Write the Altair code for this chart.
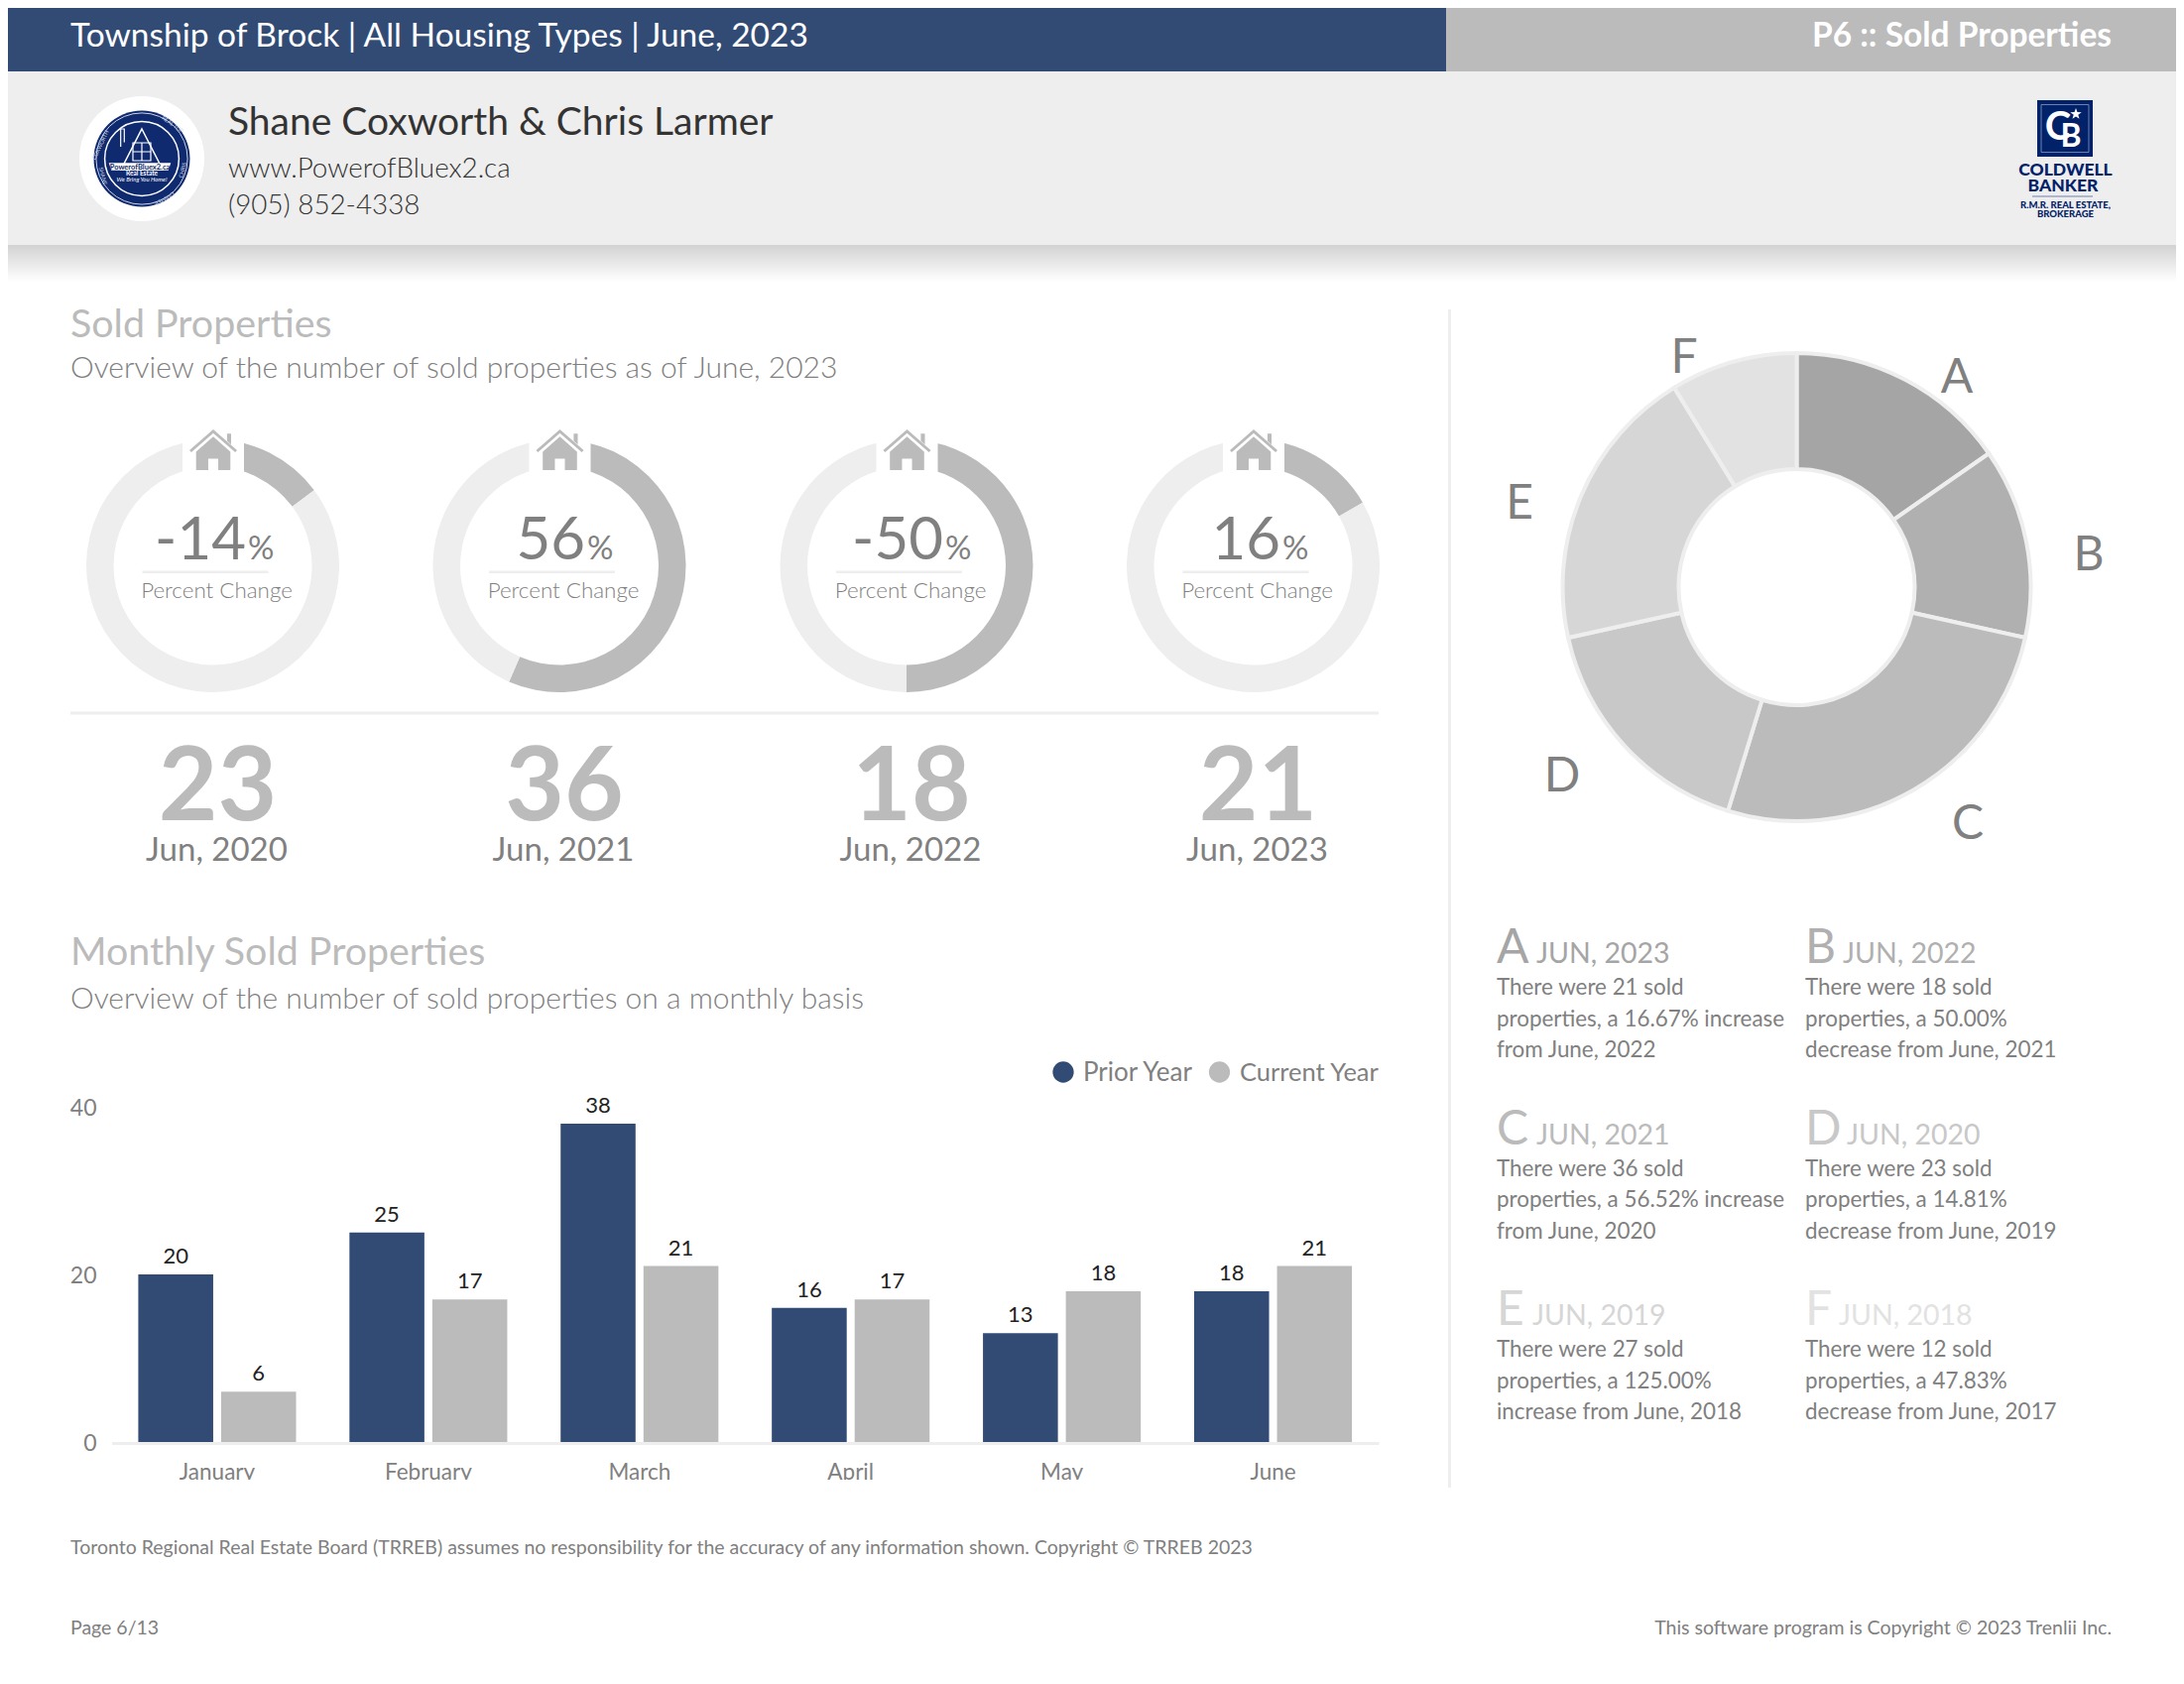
import altair as alt
import pandas as pd

# ---- data ----
ring_change = [14.81, 56.52, 50.00, 16.67]
ring_labels = ["-14", "56", "-50", "16"]
year_counts = ["23", "36", "18", "21"]
year_labels = ["Jun, 2020", "Jun, 2021", "Jun, 2022", "Jun, 2023"]

months = ["January", "February", "March", "April", "May", "June"]
prior_year = [20, 25, 38, 16, 13, 18]
current_year = [6, 17, 21, 17, 18, 21]
series_names = ["Prior Year", "Current Year"]

slice_letters = ["A", "B", "C", "D", "E", "F"]
slice_values = [21, 18, 36, 23, 27, 12]
slice_colors = ["#a5a5a5", "#b0b0b0", "#bbbbbb", "#c8c8c8", "#d6d6d6", "#e2e2e2"]
slice_dates = ["JUN, 2023", "JUN, 2022", "JUN, 2021", "JUN, 2020", "JUN, 2019", "JUN, 2018"]
slice_text = [
    ["There were 21 sold", "properties, a 16.67% increase", "from June, 2022"],
    ["There were 18 sold", "properties, a 50.00%", "decrease from June, 2021"],
    ["There were 36 sold", "properties, a 56.52% increase", "from June, 2020"],
    ["There were 23 sold", "properties, a 14.81%", "decrease from June, 2019"],
    ["There were 27 sold", "properties, a 125.00%", "increase from June, 2018"],
    ["There were 12 sold", "properties, a 47.83%", "decrease from June, 2017"],
]

BLUE = "#324b75"
GREY = "#bbbbbb"
LIGHT = "#eeeeee"
TEXT = "#808080"
NAVY = "#0f2a6e"
O = 8  # page margin
one = alt.Data(values=[{"a": 1}])
layers = []


def T(text, x, y, size, color=TEXT, weight=400, align="left", angle=0, style="normal", font="Lato"):
    layers.append(
        alt.Chart(one)
        .mark_text(text=text, align=align, baseline="alphabetic", font=font, fontSize=size,
                   fontWeight=weight, color=color, angle=angle, fontStyle=style)
        .encode(x=alt.value(x - O), y=alt.value(y - O))
    )


def R(x1, y1, x2, y2, color):
    layers.append(
        alt.Chart(one)
        .mark_rect(color=color)
        .encode(x=alt.value(x1 - O), x2=alt.value(x2 - O), y=alt.value(y1 - O), y2=alt.value(y2 - O))
    )


def P(x, y, shape, size, fill=None, stroke=None, sw=1):
    kw = dict(shape=shape, size=size, opacity=1)
    if fill:
        kw.update(filled=True, fill=fill, strokeWidth=0)
    else:
        kw.update(filled=False, stroke=stroke, strokeWidth=sw, fillOpacity=0)
    layers.append(alt.Chart(one).mark_point(**kw).encode(x=alt.value(x - O), y=alt.value(y - O)))


# ---- header ----
R(0, 0, 1458, 72, BLUE)
R(1458, 0, 2202, 72, GREY)
R(0, 72, 2202, 247, LIGHT)
layers.append(
    alt.Chart(one)
    .mark_rect(color=alt.LinearGradient(gradient="linear",
                                        stops=[alt.GradientStop(color="#d2d2d2", offset=0),
                                               alt.GradientStop(color="#ffffff", offset=1)],
                                        x1=0, x2=0, y1=0, y2=1))
    .encode(x=alt.value(0), x2=alt.value(2186), y=alt.value(247 - O), y2=alt.value(284 - O))
)
T("Township of Brock | All Housing Types | June, 2023", 71, 47, 33.5, "#ffffff")
T("P6 :: Sold Properties", 2129, 47, 33.5, "#ffffff", 700, "right")
T("Shane Coxworth & Chris Larmer", 230, 136, 39, "#333333")
T("www.PowerofBluex2.ca", 230, 179, 27.8, "#333333", 300)
T("(905) 852-4338", 230, 216, 27.8, "#333333", 300)

# left logo
P(143, 160, "circle", 15900, fill="#ffffff")
P(143, 160, "circle", 9400, fill=NAVY)
P(143, 160, "circle", 8500, stroke="#c9d1e6", sw=1)
P(143, 160, "circle", 5600, stroke="#ffffff", sw=1.5)
P(143, 151, "M0 -1 L1 0.95 L-1 0.95 Z", 1764, stroke="#ffffff", sw=1.5)  # roof triangle
P(123.5, 139, "M-0.2 -1 L0.2 -1 L0.2 0.5 M-0.2 -1 L-0.2 1", 324, stroke="#ffffff", sw=1.2)
P(143, 153, "M-1 -1 L1 -1 L1 1 L-1 1 Z M0 -1 L0 1 M-1 0 L1 0", 324, stroke="#ffffff", sw=1.2)
P(141, 168, "M-1 -0.12 L1 -0.12 L0.92 0.12 L-0.92 0.12 Z", 3900, fill="#ffffff")
T("PowerofBluex2.ca", 141, 170.5, 7.5, NAVY, 700, "center")
T("Real Estate", 143, 177, 6.5, "#ffffff", 700, "center")
T("We Bring You Home!", 143, 183, 6, "#ffffff", 400, "center", style="italic")
T("COXWORTH", 103, 147, 5.5, "#d5daea", 400, "center", angle=295)
T("SHANE", 102, 178, 5.5, "#d5daea", 400, "center", angle=75)
T("REAL TOP", 173, 127, 5.5, "#d5daea", 400, "center", angle=35)
T("CHRIS", 186, 172, 5.5, "#d5daea", 400, "center", angle=285)
T("LARMER", 165, 199, 5.5, "#d5daea", 400, "center", angle=150)

# right logo
R(2054, 101, 2110, 158, "#012169")
P(2082, 129.5, "square", 2300, stroke="#8c9cc4", sw=0.8)
T("C", 2075, 141, 40, "#ffffff", 700, "center")
T("B", 2088, 148, 32, "#ffffff", 700, "center")
P(2093, 115, "M0 -1 L0.24 -0.32 L0.95 -0.31 L0.38 0.12 L0.59 0.81 L0 0.4 L-0.59 0.81 L-0.38 0.12 L-0.95 -0.31 L-0.24 -0.32 Z", 144, fill="#ffffff")
T("COLDWELL", 2082.5, 177, 17.5, "#012169", 900, "center")
T("BANKER", 2080, 193, 17.5, "#012169", 900, "center")
R(2049, 197.5, 2110, 198.5, "#6d80b0")
T("R.M.R. REAL ESTATE,", 2082.5, 210, 9.5, "#012169", 900, "center")
T("BROKERAGE", 2082.5, 219, 9.5, "#012169", 900, "center")

# ---- section titles ----
T("Sold Properties", 71, 340, 39.4, GREY)
T("Overview of the number of sold properties as of June, 2023", 71, 381, 30, TEXT, 300)
T("Monthly Sold Properties", 71, 973, 39.4, GREY)
T("Overview of the number of sold properties on a monthly basis", 71, 1017, 30, TEXT, 300)

# ---- rings ----
ring_x = [214.5, 564, 914, 1263.5]
pct_end = [248, 590, 951, 1291]
HOUSE = ("M0 -0.85 L1 0.02 L0.92 0.1 L0 -0.7 L-0.92 0.1 L-1 0.02 Z "
         "M0 -0.55 L0.72 0.08 L0.72 0.85 L0.21 0.85 L0.21 0.38 L-0.21 0.38 L-0.21 0.85 L-0.72 0.85 L-0.72 0.08 Z "
         "M0.58 -0.68 L0.75 -0.68 L0.75 -0.22 L0.58 -0.37 Z")
for i, cx in enumerate(ring_x):
    d = pd.DataFrame({"part": ["a", "b"], "v": [ring_change[i], 100 - ring_change[i]]})
    layers.append(
        alt.Chart(d)
        .mark_arc(innerRadius=100, outerRadius=127.5)
        .encode(
            theta=alt.Theta("v:Q", stack=True, scale=alt.Scale(domain=[0, 100])),
            order=alt.Order("part:N"),
            color=alt.Color("part:N", scale=alt.Scale(domain=["a", "b"], range=[GREY, LIGHT]), legend=None),
            x=alt.value(cx - O), y=alt.value(570.5 - O),
        )
    )
    R(cx - 30.5, 428, cx + 31.5, 478, "#ffffff")
    P(cx + 0.5, 453.5, HOUSE, 2304, fill=GREY)
    T(ring_labels[i], pct_end[i], 564, 60, TEXT, 400, "right")
    T("%", pct_end[i] + 2, 564, 33, TEXT, 400, "left")
    R(cx - 71, 575.5, cx + 56, 578, LIGHT)
    T("Percent Change", cx + 4, 603, 22.4, TEXT, 300, "center")
    T(year_counts[i], cx + 5, 827, 103, GREY, 700, "center")
    T(year_labels[i], cx + 4, 868, 33, TEXT, 400, "center")
R(71, 717.5, 1390, 720.5, LIGHT)
R(1460, 312, 1463, 1500, LIGHT)

# ---- donut ----
donut = pd.DataFrame({"k": slice_letters, "v": slice_values})
layers.append(
    alt.Chart(donut)
    .mark_arc(innerRadius=119, outerRadius=236, stroke=LIGHT, strokeWidth=4)
    .encode(
        theta=alt.Theta("v:Q", stack=True),
        order=alt.Order("k:N"),
        color=alt.Color("k:N", scale=alt.Scale(domain=slice_letters, range=slice_colors), legend=None),
        x=alt.value(1811.5 - O), y=alt.value(592 - O),
    )
)
letter_pos = [(1973, 396), (2106, 575), (1984, 846), (1575, 798), (1532, 523), (1698, 376)]
for k, (x, y) in zip(slice_letters, letter_pos):
    T(k, x, y, 48, TEXT, 400, "center")

# ---- explanations ----
col_x = [1509, 1820]
date_x = [1549, 1858, 1549, 1862, 1545, 1854]
row_base = [971, 1153.5, 1336]
for i, k in enumerate(slice_letters):
    x = col_x[i % 2]
    y = row_base[i // 2]
    T(k, x, y, 48, slice_colors[i])
    T(slice_dates[i], date_x[i], y, 28.5, slice_colors[i])
    for j, line in enumerate(slice_text[i]):
        T(line, x, y + 32 + j * 31.5, 22.4, TEXT)

# ---- monthly bars ----
rows = []
for m, a, b in zip(months, prior_year, current_year):
    rows.append({"month": m, "series": series_names[0], "value": a})
    rows.append({"month": m, "series": series_names[1], "value": b})
bars_df = pd.DataFrame(rows)
x_enc = alt.X(
    "month:N", sort=months,
    scale=alt.Scale(domain=months, range=[112.5 - O, 1390 - O], paddingInner=0.2528, paddingOuter=0.1264),
    axis=alt.Axis(title=None, ticks=False, grid=False, labelAngle=0, labelFont="Lato", labelFontSize=22.5,
                  labelColor=TEXT, domainColor=LIGHT, domainWidth=3, labelPadding=36, offset=-229,
                  labelBaseline="alphabetic", labelOverlap=False),
)
y_enc = alt.Y(
    "value:Q",
    scale=alt.Scale(domain=[0, 40], range=[1454 - O, 1116 - O], nice=False),
    axis=alt.Axis(title=None, values=[0, 20, 40], ticks=False, domain=False, grid=False, offset=-89,
                  labelPadding=0, labelOffset=1.5, labelFont="Lato", labelFontSize=23, labelColor=TEXT),
)
off = alt.XOffset("series:N", scale=alt.Scale(domain=series_names, paddingInner=0.0958, paddingOuter=0))
layers.append(
    alt.Chart(bars_df)
    .mark_bar()
    .encode(x=x_enc, y=y_enc, xOffset=off,
            color=alt.Color("series:N", scale=alt.Scale(domain=series_names, range=[BLUE, GREY]), legend=None))
)
layers.append(
    alt.Chart(bars_df)
    .mark_text(font="Lato", fontSize=22, color="#222222", baseline="alphabetic", dy=-11)
    .encode(x=x_enc, y=y_enc, xOffset=off, text=alt.Text("value:Q"))
)
R(100, 1492, 1400, 1510, "#ffffff")

# legend
P(1072, 1081, "circle", 452, fill=BLUE)
T(series_names[0], 1092, 1090, 26, TEXT)
P(1229.5, 1081, "circle", 452, fill=GREY)
T(series_names[1], 1250, 1090, 25.5, TEXT)

# ---- footer ----
T("Toronto Regional Real Estate Board (TRREB) assumes no responsibility for the accuracy of any information shown. Copyright © TRREB 2023",
  71, 1567, 19.5, TEXT)
T("Page 6/13", 71, 1647.5, 19.5, TEXT)
T("This software program is Copyright © 2023 Trenlii Inc.", 2129, 1647.5, 19.5, TEXT, 400, "right")

chart = (
    alt.layer(*layers)
    .resolve_scale(theta="independent", color="independent")
    .properties(width=2186, height=1676, padding=0, background="#ffffff",
                autosize=alt.AutoSizeParams(type="none", contains="padding"))
    .configure_view(stroke=None)
)
chart.save("out.html", embed_options={"renderer": "svg", "actions": False})
